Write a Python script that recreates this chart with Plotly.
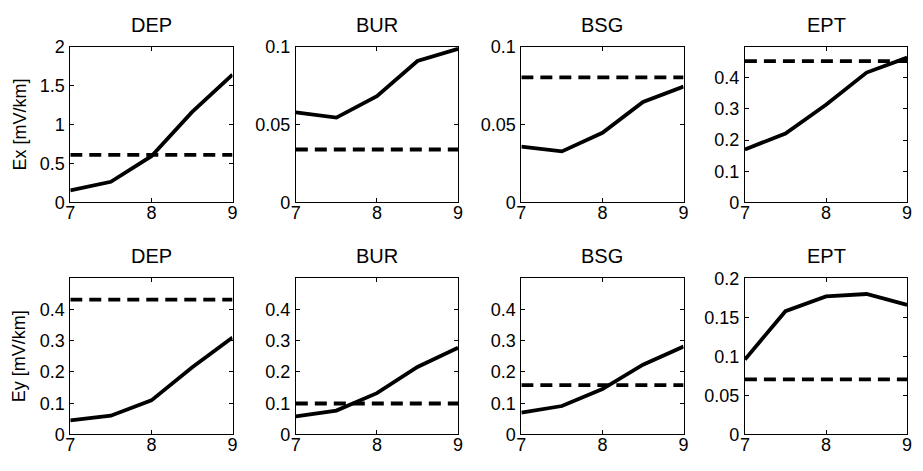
import plotly.graph_objects as go

freq = [7, 7.5, 8, 8.5, 9]
stations = ["DEP", "BUR", "BSG", "EPT"]

ex_dep = [0.156, 0.266, 0.594, 1.16, 1.64]
ex_bur = [0.0578, 0.0545, 0.0682, 0.0908, 0.0986]
ex_bsg = [0.0359, 0.0328, 0.0447, 0.0645, 0.0744]
ex_ept = [0.170, 0.221, 0.313, 0.416, 0.464]
ey_dep = [0.045, 0.060, 0.109, 0.214, 0.310]
ey_bur = [0.058, 0.0765, 0.132, 0.216, 0.277]
ey_bsg = [0.070, 0.091, 0.145, 0.223, 0.281]
ey_ept = [0.096, 0.158, 0.177, 0.180, 0.166]

ex_ref = [0.61, 0.034, 0.0803, 0.453]
ey_ref = [0.431, 0.099, 0.158, 0.0706]

ex_ranges = [[0, 2], [0, 0.1], [0, 0.1], [0, 0.499]]
ey_ranges = [[0, 0.499], [0, 0.499], [0, 0.499], [0, 0.2]]
ex_ticks = [[0, 0.5, 1, 1.5, 2], [0, 0.05, 0.1], [0, 0.05, 0.1], [0, 0.1, 0.2, 0.3, 0.4]]
ey_ticks = [[0, 0.1, 0.2, 0.3, 0.4], [0, 0.1, 0.2, 0.3, 0.4], [0, 0.1, 0.2, 0.3, 0.4], [0, 0.05, 0.1, 0.15, 0.2]]
x_ticks = [7, 8, 9]
y_labels = ["Ex [mV/km]", "Ey [mV/km]"]

W, H = 923, 471
col_px = [(66, 230), (294, 458), (522, 686), (748, 912)]
row_px = [(38.3, 201), (280.3, 443.3)]

FONT = "Liberation Sans, Arial, Helvetica, sans-serif"

fig = go.Figure()
rows_data = [[ex_dep, ex_bur, ex_bsg, ex_ept], [ey_dep, ey_bur, ey_bsg, ey_ept]]
refs = [ex_ref, ey_ref]
ranges = [ex_ranges, ey_ranges]
ticks = [ex_ticks, ey_ticks]

layout = {}
annotations = []
k = 0
for r in range(2):
    for c in range(4):
        k += 1
        xa = "x" if k == 1 else f"x{k}"
        ya = "y" if k == 1 else f"y{k}"
        fig.add_trace(go.Scatter(x=freq, y=rows_data[r][c], mode="lines",
                                 line=dict(color="black", width=3.8),
                                 xaxis=xa, yaxis=ya, showlegend=False))
        fig.add_trace(go.Scatter(x=[freq[0], freq[-1]], y=[refs[r][c]] * 2, mode="lines",
                                 line=dict(color="black", width=3.8, dash="12px,7px"),
                                 xaxis=xa, yaxis=ya, showlegend=False))
        x0, x1 = col_px[c]
        t, b = row_px[r]
        common = dict(showline=True, linecolor="black", linewidth=1, mirror="allticks",
                      ticks="inside", ticklen=4, tickcolor="black", showgrid=False,
                      zeroline=False, tickfont=dict(family=FONT, size=18, color="black"))
        layout[f"xaxis{k}"] = dict(domain=[x0 / W, x1 / W], range=[7, 9], tickvals=x_ticks,
                                   anchor=ya, ticklabelstandoff=-6, **common)
        layout[f"yaxis{k}"] = dict(domain=[1 - b / H, 1 - t / H], range=ranges[r][c],
                                   tickvals=ticks[r][c], anchor=xa, ticklabelstandoff=1, **common)
        annotations.append(dict(text=stations[c], x=(x0 + x1) / 2 / W, y=1 - (t - 23) / H,
                                xref="paper", yref="paper", showarrow=False,
                                xanchor="center", yanchor="middle",
                                font=dict(family=FONT, size=20, color="black")))
    annotations.append(dict(text=y_labels[r], x=15 / W, y=1 - (row_px[r][0] + row_px[r][1]) / 2 / H,
                            xref="paper", yref="paper", showarrow=False, textangle=-90,
                            xanchor="center", yanchor="middle",
                            font=dict(family=FONT, size=18, color="black")))

fig.update_layout(width=W, height=H, margin=dict(l=0, r=0, t=0, b=0),
                  paper_bgcolor="white", plot_bgcolor="white", hovermode=False,
                  annotations=annotations, **layout)
fig.write_html("out.html", config={"displayModeBar": False, "staticPlot": True},
               post_script="document.body.style.margin='0';document.body.style.overflow='hidden';")
